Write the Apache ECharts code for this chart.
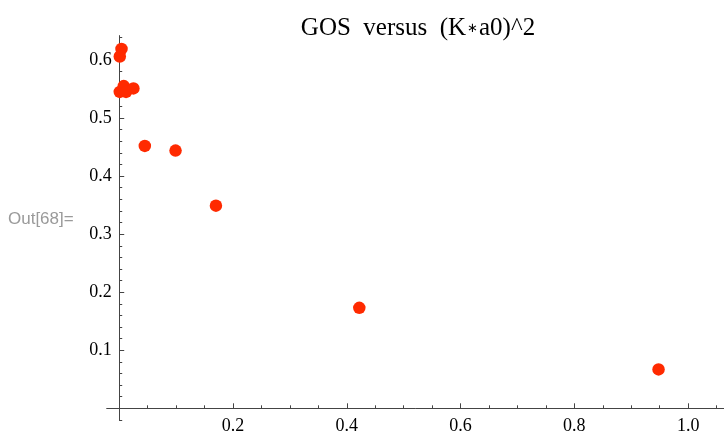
<!DOCTYPE html>
<html><head><meta charset="utf-8">
<script src="https://cdn.jsdelivr.net/npm/echarts@6/dist/echarts.min.js"></script>
<style>html,body{margin:0;padding:0;background:#fff}#c{width:724px;height:434px}</style>
</head><body><div id="c"></div>
<script>
// ---- data ----
const titleParts = ['GOS  versus  (K', '\u2217', 'a0)^2'];
const cellLabel = 'Out[68]=';
const kx  = [0.004, 0.001, 0.001, 0.008, 0.012, 0.025, 0.045, 0.099, 0.170, 0.422, 0.948];
const gos = [0.619, 0.606, 0.545, 0.555, 0.545, 0.551, 0.452, 0.444, 0.349, 0.173, 0.067];
const xMajorTicks = [0.2, 0.4, 0.6, 0.8, 1.0];
const xMinorTicks = [0.05, 0.1, 0.15, 0.25, 0.3, 0.35, 0.45, 0.5, 0.55, 0.65, 0.7, 0.75, 0.85, 0.9, 0.95, 1.05];
const yMajorTicks = [0.1, 0.2, 0.3, 0.4, 0.5, 0.6];
const yMinorTicks = [-0.02, 0.02, 0.04, 0.06, 0.08, 0.12, 0.14, 0.16, 0.18, 0.22, 0.24, 0.26, 0.28,
                     0.32, 0.34, 0.36, 0.38, 0.42, 0.44, 0.46, 0.48, 0.52, 0.54, 0.56, 0.58, 0.62, 0.64];

const points = kx.map((x, i) => [x, gos[i]]);
const serif = 'Liberation Serif';
const axisColor = '#444';
const xMin = -0.022, xMax = 1.0625, yMin = -0.021, yMax = 0.642;
const gridBox = {left: 106.7, top: 35.6, width: 617, height: 384.9, outerBoundsMode: 'none', containLabel: false};

const chart = echarts.init(document.getElementById('c'));
chart.setOption({
  animation: false,
  backgroundColor: '#fff',
  title: {
    text: '{t|' + titleParts[0] + '}{s|' + titleParts[1] + '}{t|' + titleParts[2] + '}',
    left: 413, top: 11, textAlign: 'center',
    textStyle: {
      fontWeight: 'normal',
      rich: {
        t: {fontFamily: serif, fontSize: 25, fontWeight: 'normal', color: '#000'},
        s: {fontFamily: 'DejaVu Sans', fontSize: 13, fontWeight: 'normal', color: '#000', padding: [0, 1, 0, 1]}
      }
    }
  },
  graphic: [{
    type: 'text', left: 8, top: 211,
    style: {text: cellLabel, font: '17px "Liberation Sans"', fill: '#9a9a9a'}
  }],
  grid: [Object.assign({}, gridBox), Object.assign({}, gridBox)],
  xAxis: [{
    type: 'value', gridIndex: 0, min: xMin, max: xMax,
    axisLine: {onZero: true, lineStyle: {color: axisColor, width: 1}},
    axisTick: {show: true, inside: true, length: 5, customValues: xMajorTicks, lineStyle: {color: axisColor}},
    axisLabel: {customValues: xMajorTicks, margin: -3.5, color: '#000', fontFamily: serif, fontSize: 18,
      formatter: v => v.toFixed(1)},
    splitLine: {show: false}
  }, {
    type: 'value', gridIndex: 1, min: xMin, max: xMax,
    axisLine: {onZero: true, lineStyle: {color: axisColor, opacity: 0}},
    axisTick: {show: true, inside: true, length: 3, customValues: xMinorTicks, lineStyle: {color: axisColor}},
    axisLabel: {show: false},
    splitLine: {show: false}
  }],
  yAxis: [{
    type: 'value', gridIndex: 0, min: yMin, max: yMax,
    axisLine: {onZero: true, lineStyle: {color: axisColor, width: 1}},
    axisTick: {show: true, inside: true, length: 5, customValues: yMajorTicks, lineStyle: {color: axisColor}},
    axisLabel: {customValues: yMajorTicks, margin: -5, color: '#000', fontFamily: serif, fontSize: 18,
      formatter: v => v.toFixed(1)},
    splitLine: {show: false}
  }, {
    type: 'value', gridIndex: 1, min: yMin, max: yMax,
    axisLine: {onZero: true, lineStyle: {color: axisColor, opacity: 0}},
    axisTick: {show: true, inside: true, length: 3, customValues: yMinorTicks, lineStyle: {color: axisColor}},
    axisLabel: {show: false},
    splitLine: {show: false}
  }],
  series: [{
    type: 'scatter', xAxisIndex: 0, yAxisIndex: 0,
    data: points, symbolSize: 12.5,
    itemStyle: {color: '#ff2a00', opacity: 1}
  }]
});
</script>
</body></html>
